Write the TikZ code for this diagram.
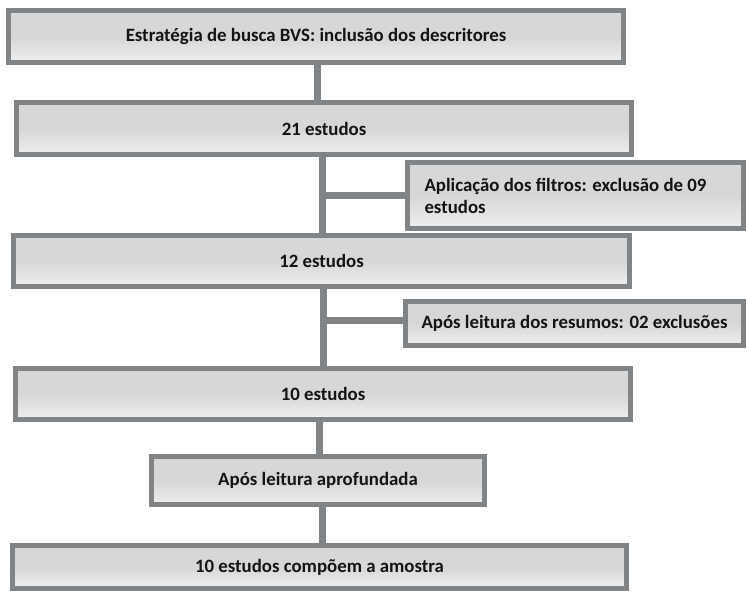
\documentclass[tikz,border=0pt]{standalone}
\usepackage{fontspec}
\setmainfont{Carlito}
\definecolor{boxborder}{RGB}{128,132,134}
\definecolor{boxtop}{RGB}{214,215,214}
\definecolor{boxbottom}{RGB}{238,239,238}
\definecolor{txt}{RGB}{20,20,20}
\tikzset{
  box/.style={draw=boxborder, line width=5bp, top color=boxtop, bottom color=boxbottom,
    middle color=boxtop, inner sep=0pt, text=txt,
    font=\fontsize{18.9}{22}\selectfont\bfseries},
  conn/.style={draw=boxborder, line width=7bp}
}
\begin{document}
\begin{tikzpicture}[x=1bp,y=-1bp]
\useasboundingbox (0,0) rectangle (747,594);
\node[box, minimum width=615bp, minimum height=52bp] (b1) at (316,36.5) {Estratégia de busca BVS: inclusão dos descritores};
\node[box, minimum width=615bp, minimum height=52bp] (b2) at (324,128.5) {21 estudos};
\node[box, minimum width=336bp, minimum height=66bp, text width=302bp, align=flush left] (f1) at (575.5,195.5) {Aplicação dos filtros: exclusão de 09\\estudos};
\node[box, minimum width=616bp, minimum height=51bp] (b3) at (321.5,261) {12 estudos};
\node[box, minimum width=338bp, minimum height=44bp] (f2) at (574.5,323.5) {Após leitura dos resumos: 02 exclusões};
\node[box, minimum width=615bp, minimum height=51bp] (b4) at (323,394) {10 estudos};
\node[box, minimum width=333bp, minimum height=48bp] (b5) at (318,480.5) {Após leitura aprofundada};
\node[box, minimum width=614bp, minimum height=43bp] (b6) at (319.5,567) {10 estudos compõem a amostra};
\draw[conn] ([xshift=1bp]b1.south) -- ([xshift=1bp]b1.south |- b2.north);
\draw[conn] ([xshift=-2bp]b2.south) -- ([xshift=-2bp]b2.south |- b3.north);
\draw[conn] ([xshift=-2bp]b2.south |- f1.west) -- (f1.west);
\draw[conn] ([xshift=1.5bp]b3.south) -- ([xshift=1.5bp]b3.south |- b4.north);
\draw[conn] ([xshift=1.5bp,yshift=3bp]b3.south |- f2.west) -- ([yshift=3bp]f2.west);
\draw[conn] ([xshift=-4bp]b4.south) -- ([xshift=-4bp]b4.south |- b5.north);
\draw[conn] ([xshift=4bp]b5.south) -- ([xshift=4bp]b5.south |- b6.north);
\end{tikzpicture}
\end{document}
